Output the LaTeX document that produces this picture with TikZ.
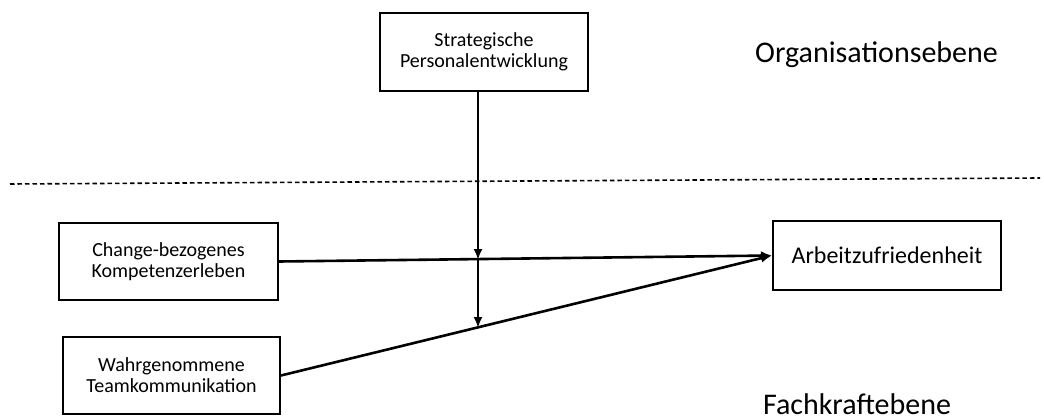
\documentclass[tikz,border=0pt]{standalone}
\usepackage{fontspec}
\setmainfont{Carlito}
\usepackage{xcolor}
\usetikzlibrary{calc,arrows.meta}

\tikzset{
  ebenebox/.style={draw=black, line width=2pt, align=center, inner sep=0pt,
    font=\fontsize{20}{21}\selectfont},
  pfeil/.style={line width=2.6pt, -{Latex[length=11pt,width=9pt]}},
  ebene/.style={anchor=base, font=\fontsize{30}{32}\selectfont}
}

\begin{document}
\begin{tikzpicture}[x=1pt, y=-1pt]
      \useasboundingbox (0, 0) rectangle (1044, 420);

      \node[ebenebox, minimum width=208pt, minimum height=78pt] (strat) at (484, 52) {Strategische\\Personalentwicklung};
      \node[ebenebox, minimum width=219pt, minimum height=77pt] (change) at (168.5, 261.5) {Change-bezogenes\\Kompetenzerleben};
      \node[ebenebox, minimum width=217pt, minimum height=77pt] (wahr) at (171.5, 375.5) {Wahrgenommene\\Teamkommunikation};
      \node[ebenebox, minimum width=228pt, minimum height=69pt, font=\fontsize{24}{26}\selectfont] (arbeit) at (887, 255.5) {Arbeitzufriedenheit};

      \node[ebene] (orga) at (876.5, 63) {Organisationsebene};
      \node[ebene] (fach) at (857, 414) {Fachkraftebene};

      \coordinate (L) at (10, 184);
      \coordinate (R) at (1040, 178);
      \coordinate (S) at (478, 91);
      \coordinate (M1) at (478, 260);
      \coordinate (M2) at (478, 328);

      \draw[line width=1.6pt, dash pattern=on 4.5pt off 3pt] (L)--(R);

      \draw[pfeil] (change.east)--(arbeit.west);
      \draw[pfeil] (wahr.east)--(arbeit.west);
      \draw[pfeil] (S)--(M1);
      \draw[pfeil] (M1)--(M2);
\end{tikzpicture}
\end{document}
